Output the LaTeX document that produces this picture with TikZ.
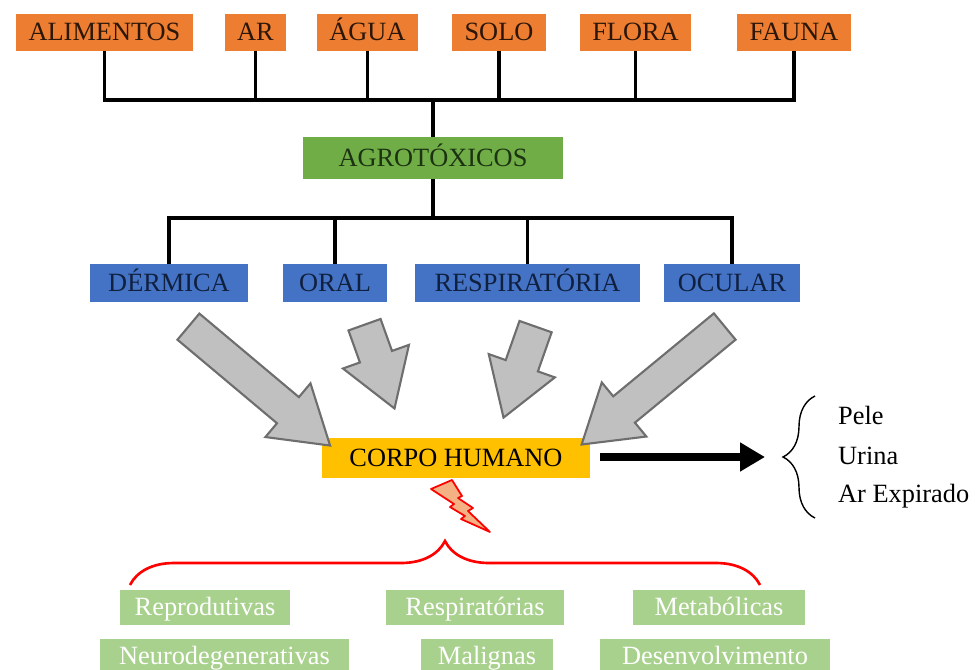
\documentclass[tikz,border=0pt]{standalone}
\usepackage{fontspec}
\setmainfont{Liberation Serif}
\usetikzlibrary{shapes.arrows,decorations.pathreplacing,arrows.meta}

\definecolor{laranja}{HTML}{ED7D31}
\definecolor{verdeagro}{HTML}{70AD47}
\definecolor{azul}{HTML}{4472C4}
\definecolor{amarelo}{HTML}{FFC000}
\definecolor{verdeclaro}{HTML}{A9D18E}
\definecolor{cinza}{HTML}{C0C0C0}
\definecolor{cinzaescuro}{HTML}{6E6E6E}
\definecolor{raio}{HTML}{F4B183}
\definecolor{textolaranja}{HTML}{2B1608}
\definecolor{textoverde}{HTML}{1B3311}
\definecolor{textoazul}{HTML}{10203F}

\tikzset{
    caixa/.style={font=\fontsize{15}{18}\selectfont, inner ysep=0pt, text height=9.9pt, text depth=0pt},
    fonte/.style={caixa, minimum height=0.74cm, fill=laranja, text=textolaranja, inner xsep=7pt},
    agro/.style={caixa, minimum height=0.84cm, minimum width=5.2cm, fill=verdeagro, text=textoverde},
    via/.style={caixa, minimum height=0.76cm, fill=azul, text=textoazul, inner xsep=8pt},
    doenca/.style={caixa, minimum height=0.7cm, fill=verdeclaro, text=white},
    linha/.style={line width=2.2pt},
    setacinza/.style={single arrow, draw=cinzaescuro, fill=cinza, line width=1.2pt,
        inner xsep=0pt, inner ysep=0.32cm, single arrow head extend=0.36cm,
        single arrow tip angle=65}
}

\begin{document}
\begin{tikzpicture}[x=0.02cm, y=-0.02cm]
    \useasboundingbox (0, 0) rectangle (978, 670);

    % fontes de contaminacao
    \node[fonte] (alim) at (104.5, 32) {ALIMENTOS};
    \node[fonte] (ar) at (255.5, 32) {AR};
    \node[fonte] (agua) at (367.5, 32) {ÁGUA};
    \node[fonte] (solo) at (499, 32) {SOLO};
    \node[fonte] (flora) at (635.5, 32) {FLORA};
    \node[fonte] (fauna) at (794, 32) {FAUNA};

    \node[agro] (agrot) at (433, 158) {AGROTÓXICOS};

    \coordinate (barra1) at (433, 100);
    \draw[linha] (alim.south) |- (barra1) -| (fauna.south);
    \draw[linha] (ar.south) -- (ar.south |- barra1);
    \draw[linha] (agua.south) -- (agua.south |- barra1);
    \draw[linha] (solo.south) -- (solo.south |- barra1);
    \draw[linha] (flora.south) -- (flora.south |- barra1);
    \draw[linha] (barra1) -- (agrot.north);

    % vias de exposicao
    \node[via, minimum width=3.16cm] (derm) at (169, 283) {DÉRMICA};
    \node[via, minimum width=2.08cm] (oral) at (335, 283) {ORAL};
    \node[via, minimum width=4.5cm] (resp) at (527.5, 283) {RESPIRATÓRIA};
    \node[via, minimum width=2.6cm] (ocul) at (732, 283) {OCULAR};

    \coordinate (barra2) at (433, 218);
    \draw[linha] (agrot.south) -- (barra2);
    \draw[linha] (derm.north) |- (barra2) -| (ocul.north);
    \draw[linha] (oral.north) -- (oral.north |- barra2);
    \draw[linha] (resp.north) -- (resp.north |- barra2);

    \node[caixa, fill=amarelo, minimum width=5.36cm, minimum height=0.8cm] (corpo) at (456, 458) {CORPO HUMANO};

    \node[setacinza, minimum height=3.7cm, rotate=-40] (s1) at (249, 377.5) {};
    \node[setacinza, minimum height=1.78cm, rotate=-70.3] (s2) at (375, 354) {};
    \node[setacinza, minimum height=1.93cm, rotate=-109.4] (s3) at (524, 359.5) {};
    \node[setacinza, minimum height=3.71cm, rotate=-140.5] (s4) at (663.5, 377) {};

    % eliminacao
    \coordinate (chtopo) at (815, 396);
    \coordinate (chbase) at (815, 518);
    \coordinate (chponta) at (783, 457);
    \draw[decorate, decoration={brace, amplitude=0.64cm}, line width=0.8pt] (chbase) -- (chtopo);
    \draw[line width=4pt, -{Triangle[length=0.5cm, width=0.55cm]}] ([xshift=0.2cm]corpo.east |- chponta) -- ([xshift=-0.36cm]chponta);
    \node[caixa, anchor=west] (pele) at (832, 416) {Pele};
    \node[caixa, anchor=west] (urina) at (832, 456) {Urina};
    \node[caixa, anchor=west] (arexp) at (832, 494) {Ar Expirado};

    % raio
    \draw[red, fill=raio, line width=1pt, line join=round]
        (431, 489) -- (452, 480) -- (462, 496) -- (458, 498) -- (473, 508) -- (468, 511)
        -- (490, 532) -- (461, 519) -- (465, 516) -- (450, 507) -- (454, 504) -- cycle;

    % doencas
    \coordinate (chesq) at (130, 585);
    \coordinate (chdir) at (760, 585);
    \draw[red, line width=1.5pt, decorate, decoration={brace, amplitude=0.88cm}] (chesq) -- (chdir);

    \node[doenca, minimum width=3.4cm] (repr) at (205, 607) {Reprodutivas};
    \node[doenca, minimum width=3.56cm] (respi) at (475, 607) {Respiratórias};
    \node[doenca, minimum width=3.44cm] (meta) at (719, 607) {Metabólicas};
    \node[doenca, minimum width=4.98cm] (neuro) at (224.5, 656) {Neurodegenerativas};
    \node[doenca, minimum width=2.64cm] (malig) at (487, 656) {Malignas};
    \node[doenca, minimum width=4.6cm] (desen) at (715, 656) {Desenvolvimento};

\end{tikzpicture}
\end{document}
